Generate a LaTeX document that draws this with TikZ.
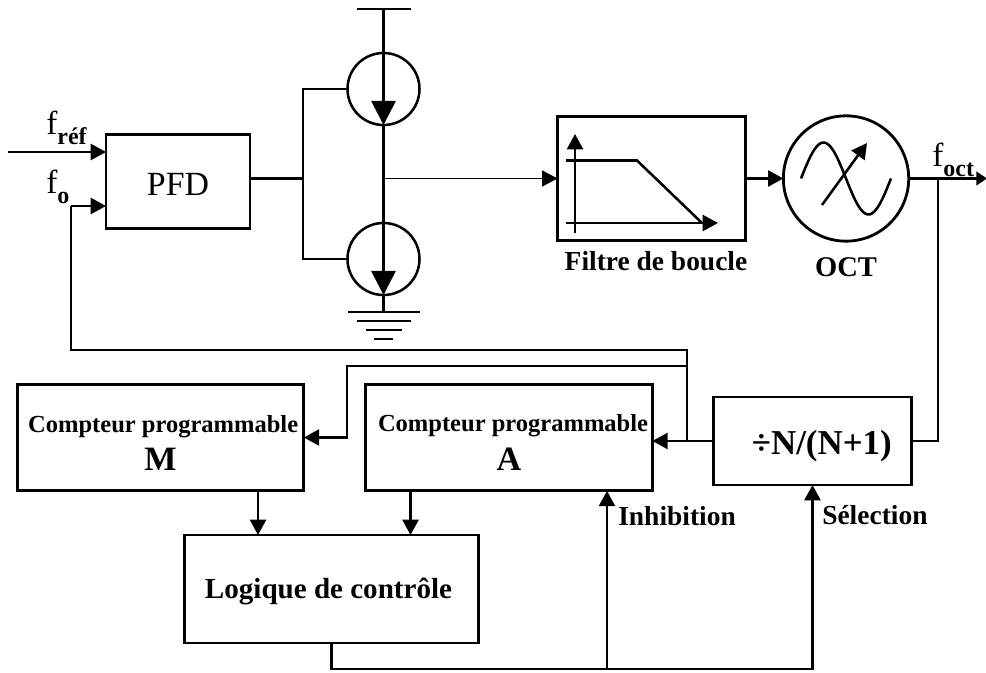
\documentclass[tikz,border=0pt]{standalone}
\usepackage{fontspec}
\setmainfont{Liberation Serif}
\usetikzlibrary{arrows.meta}
\newcommand{\sized}[1]{\fontsize{#1}{#1}\selectfont}
\newcommand{\sigf}[1]{{\sized{25}f\raisebox{-7.5pt}{\sized{18}\bfseries #1}}}

\begin{document}
\begin{tikzpicture}
 [x=0.75pt, y=-0.75pt,
  block/.style={draw, rectangle, line width=2.1pt, inner sep=0pt, outer sep=0pt, font=\bfseries},
  source/.style={draw, circle, line width=1.9pt, minimum size=54pt, inner sep=0pt, outer sep=0pt},
  bar/.style={fill=black, rectangle, inner sep=0pt, outer sep=0pt, minimum height=1.9pt},
  caption/.style={inner sep=0pt, font=\sized{20.6}\bfseries},
  sig/.style={line width=1.9pt, -{Triangle[length=11.5pt,width=12pt]}},
  wire/.style={line width=1.9pt},
  bigtip/.style={line width=2.1pt, -{Triangle[length=18pt,width=18pt]}}]

\useasboundingbox (0,0) rectangle (986,673);

\node[block, minimum width=108pt, minimum height=71pt, text height=21.3pt, font=\sized{25.4}\mdseries] (pfd) at (178,181.5) {PFD};
\node[block, minimum width=141pt, minimum height=93.5pt] (filter) at (651.5,178.5) {};
\node[source, minimum size=94pt, line width=2.1pt] (oct) [node distance=145.9pt, right of=filter] {};

\node[source] (up) at (383.5,89) {};
\node[source] (down) [node distance=127.5pt, below of=up] {};
\node[bar, minimum width=40.5pt] (vdd) at (383.5,9) {};
\node[bar, minimum width=54pt] (gnd) at (383.5,312) {};
\node[bar, minimum width=40.5pt] (gnd2) [node distance=6.75pt, below of=gnd] {};
\node[bar, minimum width=27pt] (gnd3) [node distance=6.75pt, below of=gnd2] {};
\node[bar, minimum width=14pt] (gnd4) [node distance=6.75pt, below of=gnd3] {};

\node[block, minimum width=215pt, minimum height=80pt, align=center, font=\sized{18.4}\bfseries] (cptm) at (160.5,437.5)
  {\rule{0pt}{20.7pt}\hspace*{4pt}Compteur programmable\\[7pt]{\sized{25.6}M}};
\node[block, minimum width=215pt, minimum height=80pt, align=center, font=\sized{18.4}\bfseries] (cpta) [node distance=261.4pt, right of=cptm]
  {\rule{0pt}{20.7pt}\hspace*{6pt}Compteur programmable\\[7pt]{\sized{25.6}A}};
\node[block, minimum width=148pt, minimum height=66pt, font=\sized{26.2}\bfseries] (div) at (812.5,441) {\rule{0pt}{26.4pt}\hspace*{14pt}÷N/(N+1)};
\node[block, minimum width=221pt, minimum height=81pt, font=\sized{21.8}\bfseries] (logic) at (331.5,589) {\rule{0pt}{19.3pt}Logique de contrôle\hspace*{4.5pt}};

\node[caption, anchor=base] (filtercap) at (656,271) {Filtre de boucle};
\node[caption, anchor=base, font=\sized{21.4}\bfseries] (octcap) at (846,277) {OCT};
\node[caption, anchor=base west] (inhib) at (618,526) {Inhibition};
\node[caption, anchor=base west] (selec) at (822,525) {Sélection};
\node[inner sep=0pt, anchor=base west] (fref) at (46,135) {\sigf{réf}};
\node[inner sep=0pt, anchor=base west] (fo) at (46,194) {\sigf{o}};
\node[inner sep=0pt, anchor=base west] (foct) at (932,167) {\sigf{oct}};

\coordinate (in) at (8,152);
\coordinate (foin) at (71,206);
\coordinate (fbk) at (71,350);
\coordinate (fbm) at (347,366);
\coordinate (branch) at (687,441);
\coordinate (tap) at (938,178.5);
\coordinate (out) at (987,178.5);
\coordinate (pfdj) at (303,178.5);
\coordinate (mid) at (383.5,178.5);
\coordinate (mout) at (258,491);
\coordinate (aout) at (410.5,491);
\coordinate (inh) at (607,669);
\coordinate (sel) at (812.5,669);

\path
  (in) edge [sig] (in -| pfd.west)
  (foin) edge [sig] (foin -| pfd.west)
  (pfd.east |- pfdj) edge [wire] (pfdj)
  (mid) edge [line width=0.8pt, -{Triangle[length=11.5pt,width=12pt]}] (filter.west)
  (filter.east) edge [sig] (oct.west)
  (oct.east) edge [line width=1.9pt, -{Triangle[length=8pt,width=10pt]}] (out)
  (vdd) edge [bigtip] (up.south)
  (up.south) edge [bigtip] (down.south)
  (down.south) edge [line width=2.1pt] (gnd)
  (div.west) edge [sig] (div.west -| cpta.east)
  (mout) edge [sig] (mout |- logic.north)
  (aout) edge [sig] (aout |- logic.north)
  (inh) edge [sig] (inh |- cpta.south);

\draw[wire] (up.west) -| (pfdj) |- (down.west);
\draw[wire] (div.east) -| (tap);
\draw[wire, line join=miter] (branch) -- (branch |- fbk) -- (fbk) -- (foin);
\draw[sig] (branch) |- (fbm) |- (cptm.east);
\draw[sig] (logic.south) |- (sel) -- (div.south);

\draw[line width=1.9pt, -{Triangle[length=11.5pt,width=12pt]}] (575,233) -- (575,134);
\draw[line width=1.9pt, -{Triangle[length=11.5pt,width=12pt]}] (566,223) -- (718,223);
\draw[line width=1.9pt] (566,160.5) -- (637,160.5) -- (702,223);
\draw[line width=1.9pt] plot[smooth, domain=801:891, samples=40] (\x,{178.5-36*sin(4*(846-\x))});
\draw[line width=1.9pt, -{Triangle[length=11.5pt,width=12pt]}] (822,205) -- (867,143);

\end{tikzpicture}
\end{document}
